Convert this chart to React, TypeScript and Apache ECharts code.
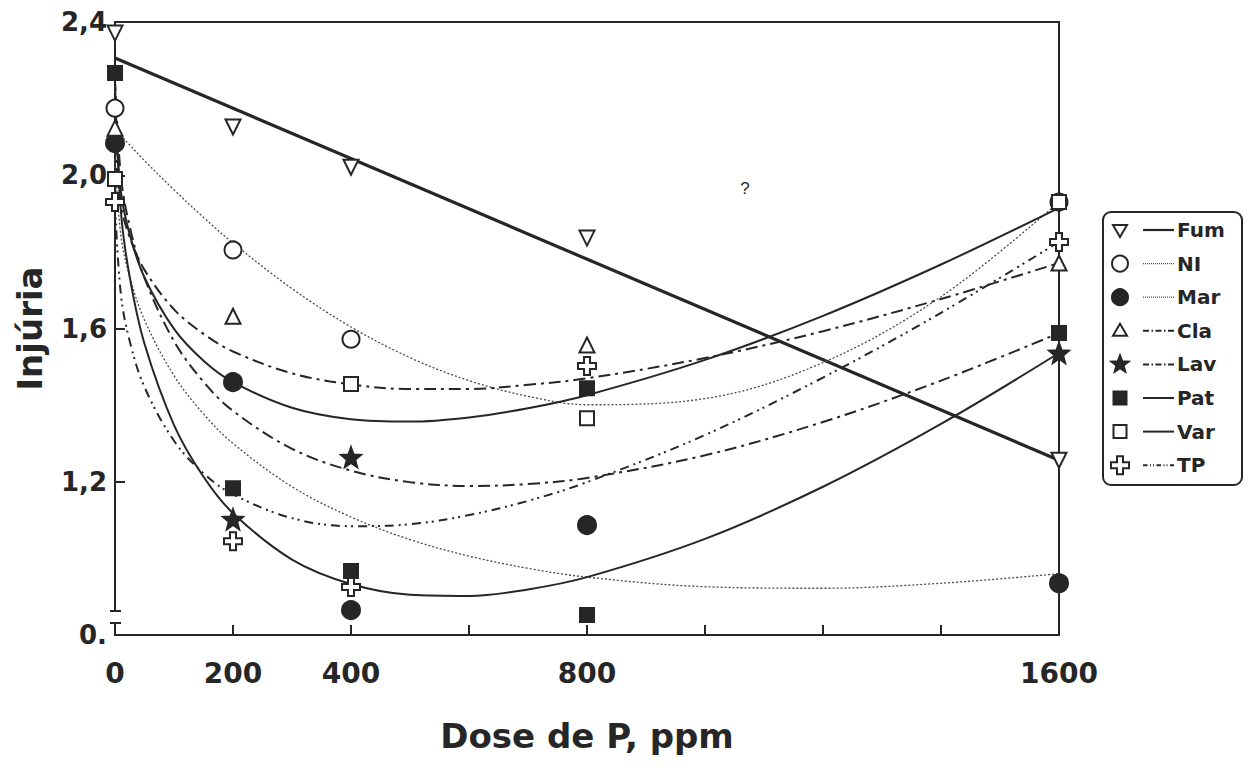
import React, { useEffect, useRef } from "react";
import * as echarts from "echarts";

// ---------- DATA ----------
// Doses (ppm) at which the fitted curves were sampled
const curveDoses = [0, 10, 25, 50, 100, 150, 200, 300, 400, 500, 600, 700, 800, 1000, 1200, 1400, 1600];

// Fitted curves (Injúria)
const fumDoses = [0, 1600];
const fumCurve = [2.306, 1.256];
const niCurve = [2.12, 2.103, 2.079, 2.038, 1.962, 1.89, 1.823, 1.704, 1.604, 1.524, 1.464, 1.423, 1.401, 1.417, 1.511, 1.683, 1.93];
const marCurve = [2.043, 1.842, 1.735, 1.622, 1.477, 1.377, 1.3, 1.187, 1.108, 1.049, 1.006, 0.974, 0.951, 0.926, 0.922, 0.935, 0.96];
const claCurve = [2.084, 1.921, 1.838, 1.753, 1.65, 1.586, 1.54, 1.483, 1.454, 1.442, 1.442, 1.453, 1.47, 1.523, 1.593, 1.677, 1.771];
const lavCurve = [2.251, 1.997, 1.866, 1.732, 1.567, 1.461, 1.385, 1.286, 1.229, 1.199, 1.189, 1.194, 1.21, 1.269, 1.356, 1.464, 1.588];
const patCurve = [2.24, 1.906, 1.734, 1.56, 1.348, 1.213, 1.118, 0.997, 0.933, 0.905, 0.902, 0.919, 0.951, 1.051, 1.187, 1.351, 1.536];
const varCurve = [2.177, 1.957, 1.845, 1.733, 1.599, 1.516, 1.46, 1.393, 1.363, 1.357, 1.368, 1.392, 1.426, 1.518, 1.633, 1.767, 1.915];
const tpCurve = [1.926, 1.688, 1.567, 1.447, 1.307, 1.222, 1.167, 1.105, 1.084, 1.089, 1.113, 1.15, 1.199, 1.322, 1.472, 1.641, 1.826];

// Observed points
const pointDoses = [0, 200, 400, 800, 1600];
const fumPts = [2.371, 2.126, 2.021, 1.836, 1.256];
const niPts = [2.175, 1.805, 1.572, null, 1.93];
const marPts = [2.084, 1.46, 0.865, 1.087, 0.935];
const claPts = [2.123, 1.632, null, 1.557, 1.771];
const lavPts = [null, 1.102, 1.264, null, 1.536];
const patPts = [2.267, 1.183, 0.967, 0.852, 1.588];
const patExtraDoses = [800];
const patExtraPts = [1.444];
const varPts = [1.99, null, 1.455, 1.366, 1.93];
const tpPts = [1.93, 1.045, 0.925, 1.502, 1.826];

// Tick labels
const xTickValues = [0, 200, 400, 800, 1600];
const xTickLabels = ["0", "200", "400", "800", "1600"];
const yTickValues = [0.8, 1.2, 1.6, 2.0, 2.4];
const yTickLabels = ["0.", "1,2", "1,6", "2,0", "2,4"];

const seriesNames = ["Fum", "NI", "Mar", "Cla", "Lav", "Pat", "Var", "TP"];

// ---------- STYLE ----------
const INK = "#262626";
const FONT = "DejaVu Sans";

const STAR = [[0, -9], [2.234, -3.074], [8.56, -2.78], [3.614, 1.174], [5.29, 7.28], [0, 3.8], [-5.29, 7.28], [-3.614, 1.174], [-8.56, -2.78], [-2.234, -3.074]];
const CROSS = [[-3, -9], [3, -9], [3, -3], [9, -3], [9, 3], [3, 3], [3, 9], [-3, 9], [-3, 3], [-9, 3], [-9, -3], [-3, -3]];
const toPath = (pts: number[][]) => "path://M" + pts.map((p) => p.join(",")).join("L") + "Z";

type Meta = {
  lineWidth: number;
  dash: number[] | null;
  lineColor: string;
  symbol: string;
  rotate: number;
  size: number;
  filled: boolean;
  kind: string;
};

const META: Record<string, Meta> = {
  Fum: { lineWidth: 3.2, dash: null, lineColor: INK, symbol: "triangle", rotate: 180, size: 15, filled: false, kind: "down" },
  NI: { lineWidth: 1.3, dash: [2, 2], lineColor: "#4a4a4a", symbol: "circle", rotate: 0, size: 17, filled: false, kind: "circle" },
  Mar: { lineWidth: 1.3, dash: [2, 2], lineColor: "#4a4a4a", symbol: "circle", rotate: 0, size: 18, filled: true, kind: "circle" },
  Cla: { lineWidth: 2, dash: [12, 5, 3, 5], lineColor: INK, symbol: "triangle", rotate: 0, size: 15, filled: false, kind: "up" },
  Lav: { lineWidth: 2, dash: [12, 5, 3, 5], lineColor: INK, symbol: toPath(STAR), rotate: 0, size: 20, filled: true, kind: "star" },
  Pat: { lineWidth: 2, dash: null, lineColor: INK, symbol: "rect", rotate: 0, size: 14, filled: true, kind: "rect" },
  Var: { lineWidth: 2, dash: null, lineColor: INK, symbol: "rect", rotate: 0, size: 14, filled: false, kind: "rect" },
  TP: { lineWidth: 2, dash: [9, 5, 2, 4, 2, 5], lineColor: INK, symbol: toPath(CROSS), rotate: 0, size: 18, filled: false, kind: "cross" },
};

const pairs = (xs: number[], ys: (number | null)[]) =>
  xs.map((x, i) => (ys[i] == null ? null : [x, ys[i] as number])).filter((p) => p !== null) as number[][];

const CURVES: Record<string, number[][]> = {
  Fum: pairs(fumDoses, fumCurve),
  NI: pairs(curveDoses, niCurve),
  Mar: pairs(curveDoses, marCurve),
  Cla: pairs(curveDoses, claCurve),
  Lav: pairs(curveDoses, lavCurve),
  Pat: pairs(curveDoses, patCurve),
  Var: pairs(curveDoses, varCurve),
  TP: pairs(curveDoses, tpCurve),
};

const POINTS: Record<string, number[][]> = {
  Fum: pairs(pointDoses, fumPts),
  NI: pairs(pointDoses, niPts),
  Mar: pairs(pointDoses, marPts),
  Cla: pairs(pointDoses, claPts),
  Lav: pairs(pointDoses, lavPts),
  Pat: pairs(pointDoses, patPts).concat(pairs(patExtraDoses, patExtraPts)),
  Var: pairs(pointDoses, varPts),
  TP: pairs(pointDoses, tpPts),
};

function legendSymbol(kind: string, filled: boolean, cx: number, cy: number): any {
  const style = { fill: filled ? INK : "#fff", stroke: INK, lineWidth: 2 };
  switch (kind) {
    case "down":
      return { type: "polygon", x: cx, y: cy, shape: { points: [[-7, -5], [7, -5], [0, 7]] }, style };
    case "up":
      return { type: "polygon", x: cx, y: cy, shape: { points: [[0, -7], [7, 5], [-7, 5]] }, style };
    case "circle":
      return { type: "circle", shape: { cx, cy, r: 8 }, style };
    case "star":
      return { type: "polygon", x: cx, y: cy, shape: { points: STAR }, style };
    case "rect":
      return { type: "rect", shape: { x: cx - 6.5, y: cy - 6.5, width: 13, height: 13 }, style };
    default:
      return { type: "polygon", x: cx, y: cy, shape: { points: CROSS }, style };
  }
}

export default function App() {
  const ref = useRef<HTMLDivElement>(null);

  useEffect(() => {
    if (!ref.current) return;
    const chart = echarts.init(ref.current, null, { renderer: "svg" });

    const series: any[] = [];
    seriesNames.forEach((n) => {
      const m = META[n];
      series.push({
        type: "line",
        name: n,
        data: CURVES[n],
        smooth: 0.35,
        symbol: "none",
        silent: true,
        z: 2,
        lineStyle: { color: m.lineColor, width: m.lineWidth, type: m.dash ? m.dash : "solid" },
      });
    });
    seriesNames.forEach((n) => {
      const m = META[n];
      series.push({
        type: "scatter",
        name: n + " pts",
        data: POINTS[n],
        symbol: m.symbol,
        symbolSize: m.size,
        symbolRotate: m.rotate,
        z: 3,
        itemStyle: { color: m.filled ? INK : "#fff", borderColor: INK, borderWidth: 2, opacity: 1 },
      });
    });

    const legendEls: any[] = [
      {
        type: "rect",
        shape: { x: 1103, y: 212, width: 139, height: 273, r: 8 },
        style: { fill: "#fff", stroke: INK, lineWidth: 2 },
      },
    ];
    seriesNames.forEach((n, i) => {
      const m = META[n];
      const cy = 230 + i * 33.6;
      legendEls.push(legendSymbol(m.kind, m.filled, 1120, cy));
      legendEls.push({
        type: "line",
        shape: { x1: 1143, y1: cy, x2: 1174, y2: cy },
        style: { stroke: m.lineColor, lineWidth: Math.min(m.lineWidth, 2.2), lineDash: m.dash ? m.dash.map((d) => d * 0.5) : null },
      });
      legendEls.push({
        type: "text",
        x: 1177,
        y: cy,
        style: {
          text: n,
          fontFamily: FONT,
          fontWeight: "bold",
          fontSize: 20,
          fill: INK,
          align: "left",
          verticalAlign: "middle",
          textAlign: "left",
          textVerticalAlign: "middle",
        },
      });
    });

    const option: any = {
      animation: false,
      backgroundColor: "#fff",
      grid: {
        left: 115,
        top: 22,
        width: 944,
        height: 613,
        show: true,
        borderColor: INK,
        borderWidth: 2,
        backgroundColor: "transparent",
        containLabel: false,
        outerBoundsMode: "none",
      },
      xAxis: {
        type: "value",
        min: 0,
        max: 1600,
        interval: 200,
        axisLine: { show: true, onZero: false, lineStyle: { color: INK, width: 2 } },
        axisTick: { show: true, inside: true, length: 10, lineStyle: { color: INK, width: 2 } },
        splitLine: { show: false },
        axisLabel: {
          margin: 24,
          fontFamily: FONT,
          fontWeight: "bold",
          fontSize: 28,
          color: INK,
          showMinLabel: true,
          showMaxLabel: true,
          formatter: (v: number) => {
            const i = xTickValues.findIndex((t) => Math.abs(t - v) < 1e-6);
            return i >= 0 ? xTickLabels[i] : "";
          },
        },
        name: "Dose de P, ppm",
        nameLocation: "middle",
        nameGap: 84,
        nameTextStyle: { fontFamily: FONT, fontWeight: "bold", fontSize: 34, color: INK },
      },
      yAxis: {
        type: "value",
        min: 0.8,
        max: 2.4,
        interval: 0.4,
        axisLine: { show: true, onZero: false, lineStyle: { color: INK, width: 2 } },
        axisTick: { show: true, inside: true, length: 10, lineStyle: { color: INK, width: 2 } },
        splitLine: { show: false },
        axisLabel: {
          margin: 8,
          fontFamily: FONT,
          fontWeight: "bold",
          fontSize: 26,
          color: INK,
          showMinLabel: true,
          showMaxLabel: true,
          formatter: (v: number) => {
            const i = yTickValues.findIndex((t) => Math.abs(t - v) < 1e-6);
            return i >= 0 ? yTickLabels[i] : "";
          },
        },
        name: "Injúria",
        nameLocation: "middle",
        nameGap: 68,
        nameTextStyle: { fontFamily: FONT, fontWeight: "bold", fontSize: 34, color: INK },
      },
      series,
      graphic: [
        // axis break on the y axis
        { type: "rect", z: 100, shape: { x: 108, y: 612, width: 14, height: 10 }, style: { fill: "#fff" } },
        { type: "line", z: 101, shape: { x1: 110, y1: 611, x2: 121, y2: 611 }, style: { stroke: INK, lineWidth: 2 } },
        { type: "line", z: 101, shape: { x1: 110, y1: 623, x2: 121, y2: 623 }, style: { stroke: INK, lineWidth: 2 } },
        // stray mark on the original
        {
          type: "text",
          z: 100,
          x: 745,
          y: 188,
          style: { text: "?", fontFamily: "Liberation Sans", fontSize: 17, fill: INK, align: "center", verticalAlign: "middle", textAlign: "center", textVerticalAlign: "middle" },
        },
        { type: "group", z: 100, children: legendEls },
      ],
    };

    chart.setOption(option);
    return () => chart.dispose();
  }, []);

  return (
    <div
      ref={ref}
      style={{ position: "fixed", left: 0, top: 0, width: 1250, height: 776, background: "#fff" }}
    />
  );
}
